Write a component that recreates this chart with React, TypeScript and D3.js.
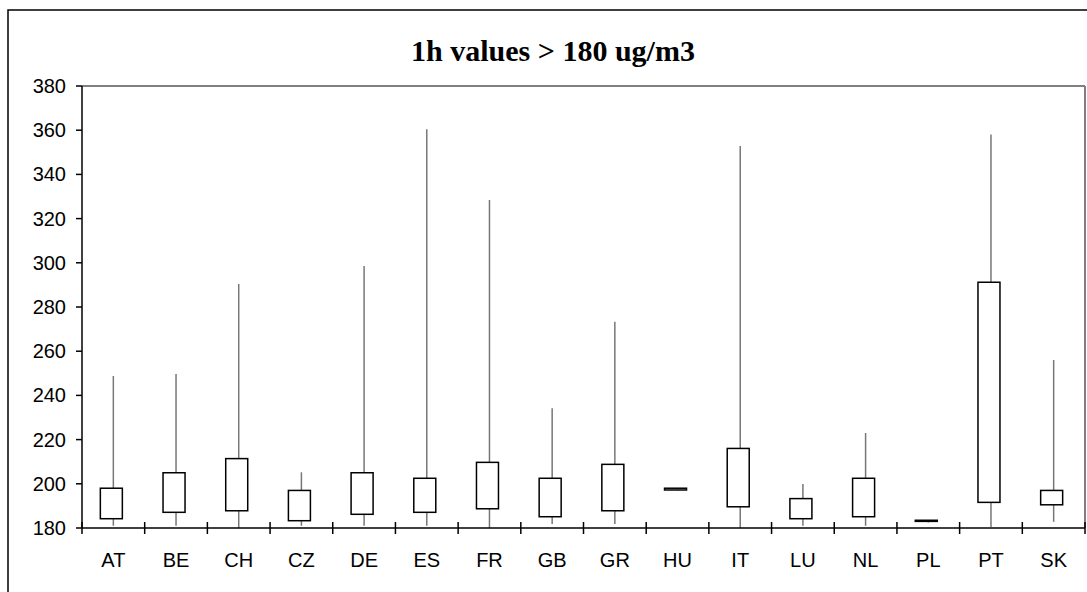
import React from 'react';
import * as d3 from 'd3';

// country codes along the x axis
const countries = ['AT', 'BE', 'CH', 'CZ', 'DE', 'ES', 'FR', 'GB', 'GR', 'HU', 'IT', 'LU', 'NL', 'PL', 'PT', 'SK'];
// whisker low / box bottom / box top / whisker high (ug/m3)
const lowValues = [181, 181, 180, 181, 181, 181, 180, 181.8, 181.8, 197, 180, 181, 181, 182.5, 180.5, 182.8];
const q1Values = [184.2, 187.1, 187.8, 183.3, 186.2, 187.1, 188.7, 185.1, 187.8, 197.2, 189.6, 184.2, 185.1, 183, 191.6, 190.5];
const q3Values = [198, 205, 211.4, 197, 205, 202.5, 209.7, 202.5, 208.8, 198, 216, 193.3, 202.5, 183.5, 291.2, 197];
const highValues = [248.8, 249.7, 290.4, 205.2, 298.6, 360.4, 328.4, 234.2, 273.3, 198, 352.8, 199.9, 223, 183.5, 358, 256];
const yTicks = [180, 200, 220, 240, 260, 280, 300, 320, 340, 360, 380];

const W = 1087;
const H = 592;
const plot = { left: 82, right: 1085, top: 86, bottom: 528 };

export default function App() {
  const x = d3.scaleBand<string>().domain(countries).range([plot.left, plot.right]);
  const y = d3.scaleLinear().domain([180, 380]).range([plot.bottom, plot.top]);
  const boxW = 22;
  const boundaries = d3.range(countries.length + 1).map(i => plot.left + i * x.step());

  return (
    <svg width={W} height={H} style={{ position: 'absolute', left: 0, top: 0, background: '#fff' }}>
      {/* outer chart frame */}
      <rect x={8} y={10} width={1200} height={700} fill="#fff" stroke="#000" strokeWidth={1.5} />

      <text x={553} y={61} textAnchor="middle" fontFamily="'Liberation Serif', 'Times New Roman', serif"
        fontWeight="bold" fontSize={30}>1h values &gt; 180 ug/m3</text>

      {/* plot area border (top / right) */}
      <line x1={plot.left} x2={plot.right} y1={plot.top} y2={plot.top} stroke="#808080" strokeWidth={2} />
      <line x1={plot.right} x2={plot.right} y1={plot.top} y2={plot.bottom} stroke="#808080" strokeWidth={2} />

      {/* whiskers */}
      {countries.map((c, i) => {
        const cx = x(c)! + x.bandwidth() / 2;
        return (
          <line key={`w-${c}`} x1={cx} x2={cx} y1={y(lowValues[i])} y2={y(highValues[i])}
            stroke="#777" strokeWidth={1.5} />
        );
      })}

      {/* boxes */}
      {countries.map((c, i) => {
        const cx = x(c)! + x.bandwidth() / 2 - 2;
        const top = y(q3Values[i]);
        const bot = y(q1Values[i]);
        return (
          <rect key={`b-${c}`} x={cx - boxW / 2} y={top} width={boxW} height={Math.max(0.5, bot - top)}
            fill="#fff" stroke="#000" strokeWidth={1.5} />
        );
      })}

      {/* y axis */}
      <line x1={plot.left} x2={plot.left} y1={plot.top} y2={plot.bottom} stroke="#000" strokeWidth={1.5} />
      {yTicks.map(t => (
        <g key={t}>
          <line x1={plot.left - 6} x2={plot.left} y1={y(t)} y2={y(t)} stroke="#000" strokeWidth={1.5} />
          <text x={66} y={y(t)} dy="0.35em" textAnchor="end" fontFamily="'Liberation Sans', Arial, sans-serif"
            fontSize={20}>{t}</text>
        </g>
      ))}

      {/* x axis */}
      <line x1={plot.left} x2={plot.right} y1={plot.bottom} y2={plot.bottom} stroke="#000" strokeWidth={1.5} />
      {boundaries.map((bx, i) => (
        <line key={`t-${i}`} x1={bx} x2={bx} y1={plot.bottom - 6} y2={plot.bottom + 6} stroke="#000" strokeWidth={1.5} />
      ))}
      {countries.map(c => (
        <text key={`l-${c}`} x={x(c)! + x.bandwidth() / 2} y={567} textAnchor="middle"
          fontFamily="'Liberation Sans', Arial, sans-serif" fontSize={20}>{c}</text>
      ))}
    </svg>
  );
}
